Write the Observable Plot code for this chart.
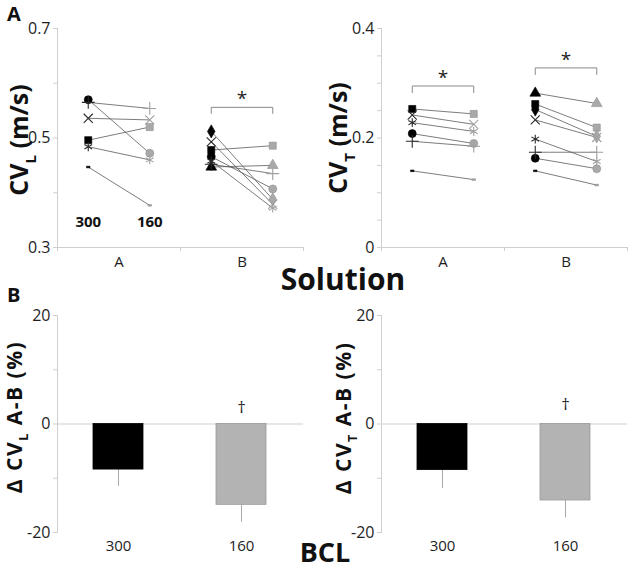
<!DOCTYPE html>
<html><head><meta charset="utf-8">
<script src="https://cdn.jsdelivr.net/npm/d3@7"></script>
<script src="https://cdn.jsdelivr.net/npm/@observablehq/plot@0.6"></script>
<style>
body{margin:0;background:#fff;}
#root{position:relative;width:630px;height:571px;overflow:hidden;font-family:"Open Sans",sans-serif;background:#fff;}
#root > svg{position:absolute;}
</style></head><body><div id="root"></div>
<script>
// ---------- data ----------
const solutions = ["A", "B"];
const bcl = ["300", "160"];

// Panel A, left: CV_L (m/s)
const cvLSymbolsA = ["circle", "plus", "times", "square", "asterisk", "dash"];
const cvL_A_300 = [0.570, 0.565, 0.536, 0.496, 0.484, 0.447];
const cvL_A_160 = [0.472, 0.554, 0.533, 0.520, 0.460, 0.377];
const cvLSymbolsB = ["diamond", "times", "square", "circle", "asterisk", "plus", "triangle"];
const cvL_B_300 = [0.512, 0.493, 0.478, 0.466, 0.458, 0.452, 0.447];
const cvL_B_160 = [0.388, 0.379, 0.486, 0.407, 0.372, 0.435, 0.450];

// Panel A, right: CV_T (m/s)
const cvTSymbolsA = ["square", "times", "asterisk", "circle", "plus", "dash"];
const cvT_A_300 = [0.253, 0.242, 0.228, 0.208, 0.194, 0.140];
const cvT_A_160 = [0.244, 0.225, 0.212, 0.190, 0.185, 0.124];
const cvTSymbolsB = ["triangle", "square", "diamond", "times", "asterisk", "plus", "circle", "dash"];
const cvT_B_300 = [0.282, 0.262, 0.252, 0.233, 0.198, 0.174, 0.163, 0.140];
const cvT_B_160 = [0.263, 0.219, 0.203, 0.201, 0.157, 0.174, 0.144, 0.114];

// significance brackets (solution, bracket level, tick drop)
const sigLSolutions = ["B"];
const sigLLevels = [0.556];
const sigLDrop = 0.011;
const sigTSolutions = ["A", "B"];
const sigTLevels = [0.295, 0.328];
const sigTDrop = 0.012;
const bclLabelLevel = 0.346;

// y ticks
const yTicksL = [0.3, 0.4, 0.5, 0.6, 0.7];
const yTickLabelsL = ["0.3", "", "0.5", "", "0.7"];
const yTicksT = [0, 0.05, 0.1, 0.15, 0.2, 0.25, 0.3, 0.35, 0.4];
const yTickLabelsT = ["0", "", "", "", "0.2", "", "", "", "0.4"];

// Panel B: Δ A-B (%)
const deltaL = [-8.4, -14.9];
const deltaLErr = [3.1, 3.2];
const deltaT = [-8.5, -14.1];
const deltaTErr = [3.4, 3.2];
const daggerBcl = ["160"];
const daggerLLevel = [3.0];
const daggerTLevel = [3.6];
const yTicksD = [-20, -10, 0, 10, 20];
const yTickLabelsD = ["-20", "", "0", "", "20"];

// ---------- styling ----------
const FONT = "Open Sans";
const axisGray = "#cfcfcf";
const textDark = "#1e1e1e";
const barFill = ["#000000", "#b3b3b3"];
const barStroke = ["#000000", "#9a9a9a"];
const dashSymbol = {draw(ctx, size) { const w = Math.sqrt(size) * 0.5, h = w * 0.45; ctx.rect(-w / 2, -h / 2, w, h); }};
const strokeSyms = new Set(["times", "plus", "asterisk"]);
const symOf = (name) => name === "dash" ? dashSymbol : name;
const xPos = (s, b) => solutions.indexOf(s) * 2 + bcl.indexOf(b) + 0.5;

function buildRows(symA, a300, a160, symB, b300, b160) {
  const pairs = [], rows = [];
  [[ "A", symA, a300, a160 ], [ "B", symB, b300, b160 ]].forEach(([s, syms, v3, v1]) => {
    syms.forEach((sym, i) => {
      pairs.push({s, sym, v300: v3[i], v160: v1[i]});
      rows.push({s, sym, b: "300", v: v3[i]});
      rows.push({s, sym, b: "160", v: v1[i]});
    });
  });
  return {pairs, rows};
}

function bracketPts(sols, levels, drop) {
  const pts = [];
  sols.forEach((s, i) => {
    const L = levels[i];
    pts.push({id: i, x: xPos(s, "300"), y: L - drop});
    pts.push({id: i, x: xPos(s, "300"), y: L});
    pts.push({id: i, x: xPos(s, "160"), y: L});
    pts.push({id: i, x: xPos(s, "160"), y: L - drop});
  });
  return pts;
}

function topPanel({rowsData, yDomain, yTicks, yLabels, sols, levels, drop, width, marginLeft, marginRight, extra = []}) {
  const {pairs, rows} = rowsData;
  const filled = rows.filter(d => !strokeSyms.has(d.sym));
  const stroked = rows.filter(d => strokeSyms.has(d.sym));
  return Plot.plot({
    width, height: 275, marginLeft, marginRight, marginTop: 28, marginBottom: 28,
    style: {fontFamily: FONT, background: "transparent", overflow: "visible"},
    x: {domain: [0, 4], axis: null},
    y: {domain: yDomain, axis: null},
    marks: [
      Plot.ruleX([0], {stroke: axisGray}),
      Plot.ruleY([yDomain[0]], {stroke: axisGray}),
      Plot.axisY({ticks: yTicks, tickFormat: (d, i) => yLabels[i], tickSize: 4, tickPadding: 3, stroke: axisGray, fill: textDark, fontSize: 16, label: null}),
      Plot.axisX({ticks: [0, 2, 4], tickFormat: () => "", tickSize: 4, stroke: axisGray, label: null}),
      Plot.axisX({ticks: [1, 3], tickFormat: (d, i) => solutions[i], tickSize: 0, tickPadding: 9, fill: textDark, fontSize: 15, label: null}),
      Plot.link(pairs, {x1: d => xPos(d.s, "300"), y1: "v300", x2: d => xPos(d.s, "160"), y2: "v160", stroke: "#5a5a5a", strokeWidth: 0.8}),
      Plot.line(bracketPts(sols, levels, drop), {x: "x", y: "y", z: "id", stroke: "#8a8a8a", strokeWidth: 1}),
      Plot.text(sols.map((s, i) => ({s, L: levels[i]})), {x: d => (xPos(d.s, "300") + xPos(d.s, "160")) / 2, y: "L", text: () => "*", dy: -8, fontSize: 19, fill: textDark}),
      Plot.dot(filled, {x: d => xPos(d.s, d.b), y: "v", symbol: d => symOf(d.sym), r: 4,
        fill: d => d.b === "300" ? "#000" : "#a9a9a9", stroke: d => d.b === "300" ? "#000" : "#909090", strokeWidth: 0.6}),
      Plot.dot(stroked, {x: d => xPos(d.s, d.b), y: "v", symbol: d => d.sym, r: 4.2,
        fill: "none", stroke: d => d.b === "300" ? "#2a2a2a" : "#a0a0a0", strokeWidth: 1.1}),
      ...extra
    ]
  });
}

function bottomPanel({vals, errs, daggerLevels, width, marginLeft, marginRight}) {
  const rows = bcl.map((b, i) => ({b, v: vals[i], e: errs[i], i}));
  const dag = daggerBcl.map((b, i) => ({b, y: daggerLevels[i]}));
  return Plot.plot({
    width, height: 281, marginLeft, marginRight, marginTop: 25, marginBottom: 39,
    style: {fontFamily: FONT, background: "transparent", overflow: "visible"},
    x: {type: "band", domain: bcl, paddingInner: 0.59, paddingOuter: 0.295, axis: null},
    y: {domain: [-20, 20], axis: null},
    marks: [
      Plot.frame({anchor: "left", stroke: axisGray}),
      Plot.ruleY([0], {stroke: axisGray}),
      Plot.ruleX(rows, {x: "b", y1: "v", y2: d => d.v - d.e, stroke: "#a8a8a8", strokeWidth: 1}),
      Plot.barY(rows, {x: "b", y: "v", fill: d => barFill[d.i], stroke: d => barStroke[d.i], strokeWidth: 0.8}),
      Plot.text(dag, {x: "b", y: "y", text: () => "†", fontSize: 17, fill: textDark}),
      Plot.axisY({ticks: yTicksD, tickFormat: (d, i) => yTickLabelsD[i], tickSize: 4, tickPadding: 3, stroke: axisGray, fill: textDark, fontSize: 16, label: null}),
      Plot.axisX({tickSize: 0, tickPadding: 8, fill: textDark, fontSize: 15, label: null})
    ]
  });
}

const root = document.getElementById("root");
function place(el, left, top) { el.style.left = left + "px"; el.style.top = top + "px"; root.appendChild(el); }

const lRows = buildRows(cvLSymbolsA, cvL_A_300, cvL_A_160, cvLSymbolsB, cvL_B_300, cvL_B_160);
const tRows = buildRows(cvTSymbolsA, cvT_A_300, cvT_A_160, cvTSymbolsB, cvT_B_300, cvT_B_160);

place(topPanel({rowsData: lRows, yDomain: [0.3, 0.7], yTicks: yTicksL, yLabels: yTickLabelsL,
  sols: sigLSolutions, levels: sigLLevels, drop: sigLDrop, width: 315, marginLeft: 57, marginRight: 12,
  extra: [Plot.text(bcl, {x: b => xPos("A", b), y: () => bclLabelLevel, text: d => d, fontWeight: "bold", fontSize: 15, fill: "#111"})]}), 0, 0);
place(topPanel({rowsData: tRows, yDomain: [0, 0.4], yTicks: yTicksT, yLabels: yTickLabelsT,
  sols: sigTSolutions, levels: sigTLevels, drop: sigTDrop, width: 307, marginLeft: 58, marginRight: 3}), 323, 0);
place(bottomPanel({vals: deltaL, errs: deltaLErr, daggerLevels: daggerLLevel, width: 315, marginLeft: 57, marginRight: 12}), 0, 290);
place(bottomPanel({vals: deltaT, errs: deltaTErr, daggerLevels: daggerTLevel, width: 307, marginLeft: 58, marginRight: 3}), 323, 290);

// ---------- titles overlay ----------
const ov = d3.create("svg").attr("width", 630).attr("height", 571).style("left", "0px").style("top", "0px")
  .style("pointer-events", "none").style("font-family", FONT).style("font-weight", "bold").attr("fill", "#111");
ov.append("text").attr("x", 7).attr("y", 21).attr("font-size", 20).text("A");
ov.append("text").attr("x", 7).attr("y", 302).attr("font-size", 20).text("B");
ov.append("text").attr("x", 343).attr("y", 290).attr("text-anchor", "middle").attr("font-size", 30).text("Solution");
ov.append("text").attr("x", 325).attr("y", 562).attr("text-anchor", "middle").attr("font-size", 27).text("BCL");

function rotTitle(x, y, pre, sub, post, size, spacing) {
  const t = ov.append("text").attr("transform", `translate(${x},${y}) rotate(-90)`).attr("text-anchor", "middle")
    .attr("font-size", size).attr("letter-spacing", spacing);
  t.append("tspan").text(pre);
  t.append("tspan").attr("dy", size * 0.3).attr("font-size", size * 0.6).text(sub);
  t.append("tspan").attr("dy", -size * 0.3).text(post);
}
rotTitle(28, 140, "CV", "L", " (m/s)", 25, 0);
rotTitle(347, 138, "CV", "T", " (m/s)", 25, 0);
rotTitle(22, 417, "Δ CV", "L", "  A-B (%)", 21, 1.5);
rotTitle(351, 418, "Δ CV", "T", "  A-B (%)", 21, 1.5);
root.appendChild(ov.node());
</script></body></html>
